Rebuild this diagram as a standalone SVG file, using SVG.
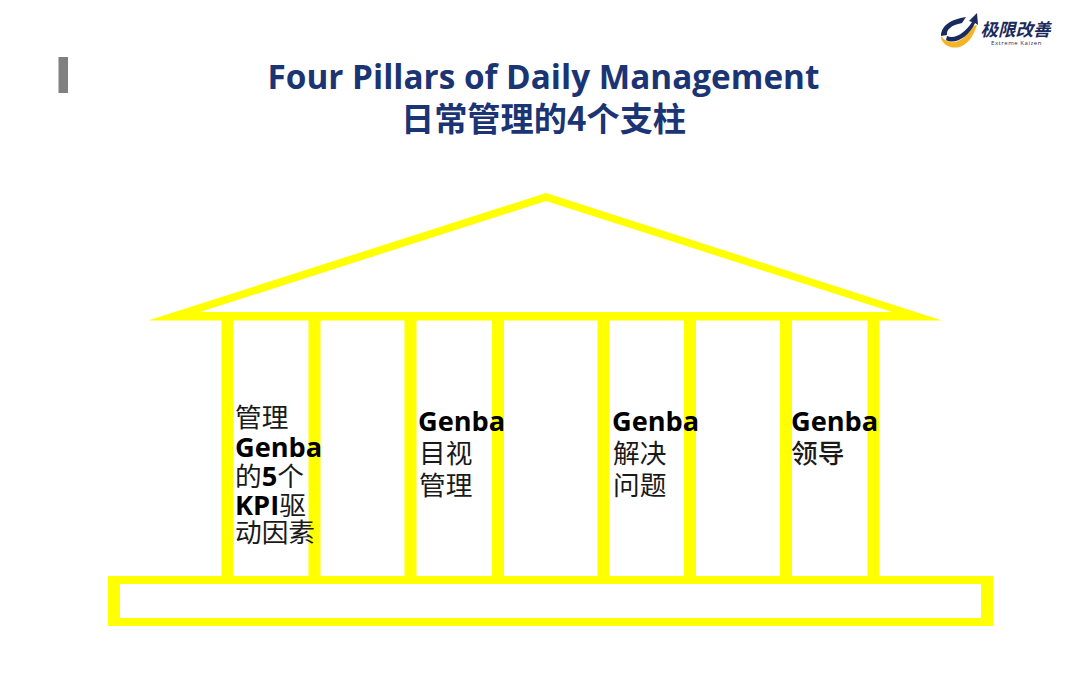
<svg xmlns="http://www.w3.org/2000/svg" width="1080" height="675" viewBox="0 0 1080 675">
<style>
.y{fill:#ffff00}
.t{font-family:"Open Sans","Noto Sans CJK SC",sans-serif;font-weight:700;fill:#1b3474;font-size:33.3px}
.c{font-family:"Noto Sans CJK SC",sans-serif;font-size:26.700px;fill:#1a1a1a;font-weight:400}
.b{font-family:"Open Sans","Noto Sans CJK SC",sans-serif;font-size:27.200px;font-weight:700;fill:#000}
</style>
<rect width="1080" height="675" fill="#fff"/>
<rect x="58.500" y="57" width="9.500" height="36" fill="#808080"/>
<g id="logo">
<path d="M941 36C941 26 951 19 966 17L962 23C951 25 946 30 947 35Z" fill="#1b2a5c"/>
<path d="M941 38C943 46 953 50 962 46C970 42 974 34 977 25L973 26C968 36 958 44 950 42C946 41 943 39 941 36Z" fill="#f5b325"/>
<path d="M947 36C955 40 966 32 972 22L969 21L977 13L978 25L975 23C969 37 955 45 946 40Z" fill="#1b2a5c"/>
<text x="980.500" y="35.500" font-family="'Noto Sans CJK SC',sans-serif" font-weight="700" font-style="italic" font-size="17.500" fill="#1b2a5c">极限改善</text>
<text x="991" y="44.500" font-family="'Open Sans',sans-serif" font-size="6" letter-spacing=".55" fill="#1b2a5c">Extreme Kaizen</text>
</g>
<g id="title">
<text class="t" x="543.500" y="89" text-anchor="middle">Four Pillars of Daily Management</text>
<text class="t" x="543.500" y="131" text-anchor="middle" style="font-family:'Noto Sans CJK SC',sans-serif;font-size:33.2px">日常管理的4个支柱</text>
</g>
<g id="temple">
<path id="roof" class="y" fill-rule="evenodd" d="M148 320.500L546 193L942 320.500ZM200 312H892L546 201Z"/>
<g id="pillars" class="y">
<rect x="221.500" y="320" width="12" height="257"/>
<rect x="308.500" y="320" width="12" height="257"/>
<rect x="404.500" y="320" width="12" height="257"/>
<rect x="492" y="320" width="12" height="257"/>
<rect x="597.500" y="320" width="12" height="257"/>
<rect x="684" y="320" width="12" height="257"/>
<rect x="780" y="320" width="12" height="257"/>
<rect x="867.500" y="320" width="12" height="257"/>
</g>
<path id="base" class="y" fill-rule="evenodd" d="M108 576H993V626H108ZM120 584V618H981V584Z"/>
</g>
<g id="pillar1">
<text class="c" x="235" y="427">管理</text>
<text class="b" x="235" y="457">Genba</text>
<text x="235" y="486"><tspan class="c">的</tspan><tspan class="b">5</tspan><tspan class="c">个</tspan></text>
<text x="235" y="515"><tspan class="b">KPI</tspan><tspan class="c">驱</tspan></text>
<text class="c" x="235" y="542">动因素</text>
</g>
<g id="pillar2">
<text class="b" x="418" y="431">Genba</text>
<text class="c" x="419" y="463">目视</text>
<text class="c" x="419" y="495">管理</text>
</g>
<g id="pillar3">
<text class="b" x="612" y="431">Genba</text>
<text class="c" x="613" y="463">解决</text>
<text class="c" x="613" y="495">问题</text>
</g>
<g id="pillar4">
<text class="b" x="791" y="431">Genba</text>
<text class="c" x="791" y="463" style="font-weight:500">领导</text>
</g>
</svg>
